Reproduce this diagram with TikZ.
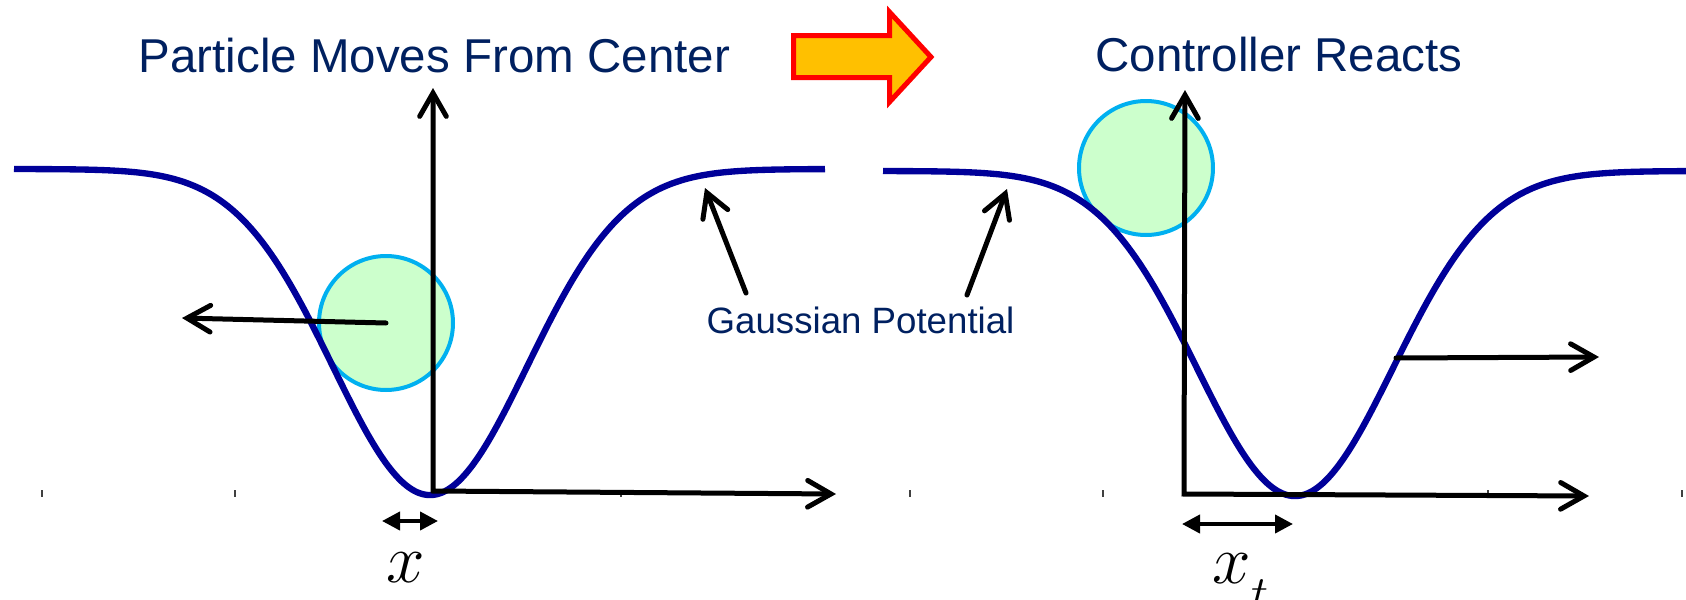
\documentclass[tikz,border=0pt]{standalone}
\usepackage{fontspec}
\setmainfont{Liberation Sans}
\usetikzlibrary{arrows.meta}
\definecolor{navy}{RGB}{0,32,96}
\definecolor{curveblue}{RGB}{0,0,153}
\definecolor{partfill}{RGB}{204,255,204}
\definecolor{partedge}{RGB}{0,176,240}
\definecolor{arrowfill}{RGB}{255,192,0}
\definecolor{arrowedge}{RGB}{255,0,0}
\begin{document}
\begin{tikzpicture}[x=0.3pt,y=-0.3pt,
  titletext/.style={text=navy, font=\fontsize{14.25}{16}\selectfont, inner sep=0pt, anchor=base west},
  labeltext/.style={text=navy, font=\fontsize{11}{13}\selectfont, inner sep=0pt, anchor=base west},
  mathtext/.style={font=\fontsize{21}{24}\selectfont, inner sep=0pt, anchor=base west},
  particle/.style={circle, draw=partedge, fill=partfill, line width=1.2pt, minimum size=40.2pt, inner sep=0pt},
  potential/.style={draw=curveblue, line width=1.9pt},
  axisline/.style={line width=1.5pt, line cap=round, line join=miter,
     {Straight Barb[length=7pt,width=8pt,line cap=round]}-{Straight Barb[length=7pt,width=8pt,line cap=round]}},
  pointer/.style={line width=1.5pt, line cap=round, -{Straight Barb[length=7pt,width=8pt,line cap=round]}},
  span/.style={line width=1.2pt, {Triangle[length=5.4pt,width=5.4pt]}-{Triangle[length=5.4pt,width=5.4pt]}},
  tickmark/.style={draw=black!75, line width=0.8pt},
  bigarrow/.style={draw=arrowedge, fill=arrowfill, line width=1.5pt, line join=miter}
]
\useasboundingbox (0,0) rectangle (1686,600);

% tick marks
\foreach \t in {42,235,621,910,1103,1488,1682}
  \draw[tickmark] (\t,490) -- (\t,497);

% particles
\node[particle] (p1) at (386,323) {};
\node[particle] (p2) at (1146,168) {};

% gaussian potentials
\draw[potential] plot[domain=14:825,samples=160,smooth] (\x,{169+326*exp(-0.5*((\x-430)/97)^2)});
\draw[potential] plot[domain=883:1686,samples=160,smooth] (\x,{171+325*exp(-0.5*((\x-1295)/98)^2)});

% axes
\coordinate (o1) at (433,491);
\coordinate (y1) at (433,88);
\coordinate (x1) at (836,494);
\draw[axisline] (y1) -- (o1) -- (x1);
\coordinate (o2) at (1184,494);
\coordinate (y2) at (1185,90);
\coordinate (x2) at (1589,496);
\draw[axisline] (y2) -- (o2) -- (x2);

% motion arrows
\coordinate (m1) at (182,318);
\draw[pointer] (p1.center) -- (m1);
\coordinate (m2s) at (1396,358);
\coordinate (m2e) at (1599,357);
\draw[pointer] (m2s) -- (m2e);

% big transition arrow
\draw[bigarrow] (793.5,35.5) -- (889.5,35.5) -- (889.5,12) -- (931,57) -- (889.5,102) -- (889.5,77.5) -- (793.5,77.5) -- cycle;

% titles
\node[titletext] (t1) at (138,72) {Particle Moves From Center};
\node[titletext] (t2) at (1095,71) {Controller Reacts};

% gaussian potential label and pointers
\node[labeltext] (gp) at (706,333) {Gaussian Potential};
\coordinate (g1s) at (746,293);
\coordinate (g1e) at (705,188);
\draw[pointer] (g1s) -- (g1e);
\coordinate (g2s) at (967,295);
\coordinate (g2e) at (1007,189);
\draw[pointer] (g2s) -- (g2e);

% displacement markers
\coordinate (d1a) at (382,521);
\coordinate (d1b) at (438,521);
\draw[span] (d1a) -- (d1b);
\node[mathtext] (lx) at (386,582) {$x$};
\coordinate (d2a) at (1182,524);
\coordinate (d2b) at (1293,524);
\draw[span] (d2a) -- (d2b);
\node[mathtext] (lxt) at (1212,583) {$x$\raisebox{-8pt}{\fontsize{15}{16}\selectfont$t$}};
\end{tikzpicture}
\end{document}
